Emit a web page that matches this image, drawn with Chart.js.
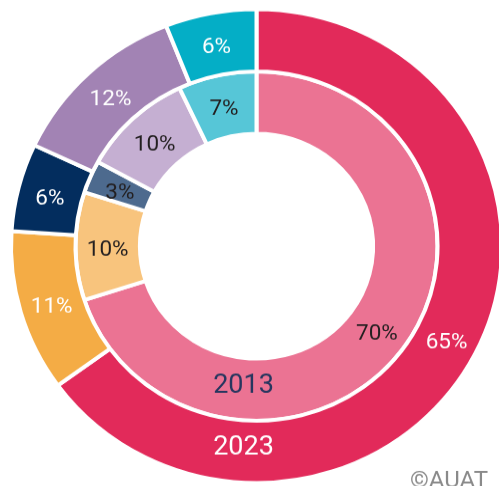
<!DOCTYPE html>
<html>
<head>
<meta charset="utf-8">
<script src="https://cdn.jsdelivr.net/npm/chart.js@4"></script>
<style>
  html, body { margin: 0; padding: 0; background: #fff; overflow: hidden; }
  /* le visuel d'origine est légèrement écrasé verticalement */
  #wrap { width: 499px; height: 510px; transform: scaleY(0.965); transform-origin: 0 0; }
</style>
</head>
<body>
<div id="wrap"><canvas id="donut" width="499" height="510"></canvas></div>
<script>
// anneau extérieur = 2023, anneau intérieur = 2013
const years = ["2023", "2013"];
const segments = ["Segment 1", "Segment 2", "Segment 3", "Segment 4", "Segment 5"];
const values2023 = [65, 11, 6, 12, 6];
const values2013 = [70, 10, 3, 10, 7];

const colors2023 = ["#e22a5a", "#f4ac45", "#032d5e", "#a283b4", "#04aec6"];
const colors2013 = ["#eb7393", "#f8c47d", "#4d6a8e", "#c5afd2", "#56c6d7"];
const textColors = ["#ffffff", "#231f20"];
const yearColors = ["#ffffff", "#26365f"];

const labelsPlugin = {
  id: "ringLabels",
  afterDatasetsDraw(chart) {
    const ctx = chart.ctx;
    const dy = 4; // léger décalage vers le bas des textes
    ctx.save();
    ctx.textAlign = "center";
    ctx.textBaseline = "middle";
    chart.data.datasets.forEach((ds, i) => {
      const meta = chart.getDatasetMeta(i);
      // pourcentages au milieu de chaque part
      ctx.font = "22.5px Roboto";
      ctx.fillStyle = textColors[i];
      meta.data.forEach((arc, j) => {
        const p = arc.getCenterPoint();
        ctx.fillText(ds.data[j] + "%", p.x, p.y + dy);
      });
      // année en bas de l'anneau
      const a = meta.data[0];
      const mid = (a.innerRadius + a.outerRadius) / 2;
      ctx.font = "27px Roboto";
      ctx.fillStyle = yearColors[i];
      ctx.fillText(years[i], a.x - 13, a.y + mid - 8 + dy);
    });
    // crédit
    ctx.font = "24px Roboto";
    ctx.fillStyle = "#8a8a8a";
    ctx.textAlign = "right";
    ctx.textBaseline = "top";
    ctx.fillText("©AUAT", 488, 487);
    ctx.restore();
  }
};

new Chart(document.getElementById("donut").getContext("2d"), {
  type: "doughnut",
  data: {
    labels: segments,
    datasets: [
      {
        label: years[0],
        data: values2023,
        backgroundColor: colors2023,
        borderColor: "#ffffff",
        borderWidth: 4
      },
      {
        label: years[1],
        data: values2013,
        backgroundColor: colors2013,
        borderColor: "#ffffff",
        borderWidth: 4
      }
    ]
  },
  options: {
    responsive: false,
    animation: false,
    radius: 245.5,
    cutout: "47.5%",
    layout: { padding: { left: 14 } },
    plugins: {
      legend: { display: false },
      tooltip: { enabled: false }
    }
  },
  plugins: [labelsPlugin]
});
</script>
</body>
</html>
